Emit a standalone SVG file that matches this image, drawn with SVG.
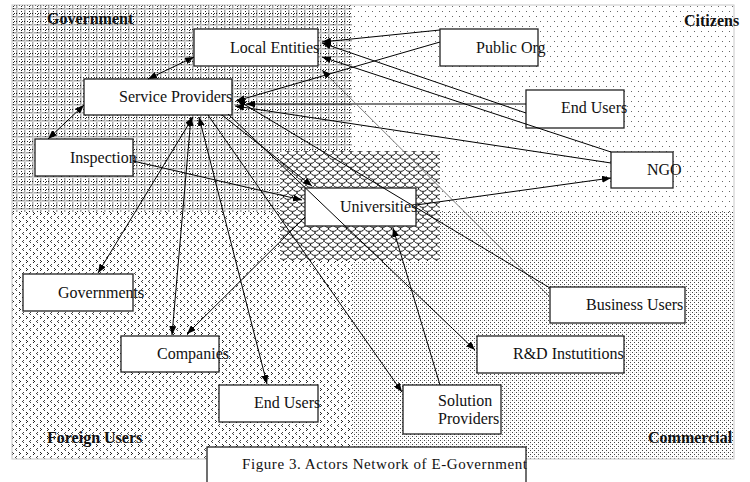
<svg xmlns="http://www.w3.org/2000/svg" width="750" height="482" viewBox="0 0 750 482">
<style>
.box{fill:#fff;stroke:#222;stroke-width:1.3}
.t{font-family:"Liberation Serif","Times New Roman",serif;font-size:16px;fill:#111}
.lb{font-family:"Liberation Serif","Times New Roman",serif;font-size:16px;font-weight:bold;fill:#111}
.cap{font-family:"Liberation Serif","Times New Roman",serif;font-size:15px;fill:#111}
.c{stroke:#000;stroke-width:1;fill:none}
.g{stroke:#7a7a7a;stroke-width:1;fill:none}
</style>
<defs>
<marker id="ah" viewBox="0 0 9 7" refX="9" refY="3.5" markerWidth="9" markerHeight="7" markerUnits="userSpaceOnUse" orient="auto-start-reverse"><path d="M0,0 L9,3.5 L0,7 z" fill="#000"/></marker>
<pattern id="pGov" width="8" height="8" patternUnits="userSpaceOnUse">
<rect width="8" height="8" fill="#fff"/>
<path d="M0.5,0V8M0,0.5H8" stroke="#a8a8a8" stroke-width="1"/>
<path d="M1.5,0V8M0,1.5H8" stroke="#d4d4d4" stroke-width="1"/>
<path d="M5.5,0V8M0,5.5H8" stroke="#222" stroke-width="1" stroke-dasharray="1 2"/>
</pattern>
<pattern id="pCit" width="7" height="10" patternUnits="userSpaceOnUse">
<rect width="7" height="10" fill="#fff"/>
<rect x="1" y="1" width="1" height="1" fill="#666"/>
<rect x="4" y="6" width="1" height="1" fill="#666"/>
</pattern>
<pattern id="pFor" width="7" height="8" patternUnits="userSpaceOnUse">
<rect width="7" height="8" fill="#fff"/>
<path d="M2,0h1v1h-1zM1,1h1v1h-1zM2,2h1v1h-1z" fill="#444"/>
<path d="M5,4h1v1h-1zM6,5h1v1h-1zM5,6h1v1h-1z" fill="#222"/>
</pattern>
<pattern id="pCom" width="4" height="4" patternUnits="userSpaceOnUse">
<rect width="4" height="4" fill="#fff"/>
<rect x="0" y="0" width="1" height="1" fill="#444"/>
<rect x="2" y="2" width="1" height="1" fill="#444"/>
<rect x="2" y="0" width="1" height="1" fill="#e0e0e0"/>
</pattern>
<pattern id="pSc" width="9" height="8" patternUnits="userSpaceOnUse">
<rect width="9" height="8" fill="#fff"/>
<path d="M0,0 C0,4.5 9,4.5 9,0 M-4.5,4 C-4.5,8.5 4.5,8.5 4.5,4 M4.5,4 C4.5,8.5 13.5,8.5 13.5,4" stroke="#000" stroke-width="0.9" fill="none"/>
</pattern>
</defs>
<rect width="750" height="482" fill="#fff"/>
<g id="background">
<rect x="12" y="5" width="340" height="207" fill="url(#pGov)"/>
<rect x="352" y="5" width="382" height="207" fill="url(#pCit)"/>
<rect x="12" y="212" width="340" height="247" fill="url(#pFor)"/>
<rect x="352" y="212" width="382" height="247" fill="url(#pCom)"/>
<rect x="12" y="5" width="722" height="454" fill="none" stroke="#c8c8c8" stroke-width="1"/>
<rect x="280" y="151" width="160" height="110" fill="url(#pSc)"/>
<text class="lb" x="47" y="24">Government</text>
<text class="lb" x="684" y="26">Citizens</text>
<text class="lb" x="47" y="443">Foreign Users</text>
<text class="lb" x="648" y="443">Commercial</text>
</g>
<g id="local-entities"><rect class="box" x="194" y="29" width="124" height="37"/><text class="t" x="230" y="53">Local Entities</text></g>
<g id="service-providers"><rect class="box" x="84" y="79" width="148" height="36"/><text class="t" x="119" y="102">Service Providers</text></g>
<g id="inspection"><rect class="box" x="35" y="139" width="98" height="37"/><text class="t" x="70" y="163">Inspection</text></g>
<g id="public-org"><rect class="box" x="440" y="29" width="98" height="37"/><text class="t" x="476" y="53">Public Org</text></g>
<g id="end-users-citizens"><rect class="box" x="526" y="90" width="98" height="38"/><text class="t" x="561" y="113">End Users</text></g>
<g id="ngo"><rect class="box" x="611" y="152" width="62" height="36"/><text class="t" x="647" y="175">NGO</text></g>
<g id="universities"><rect class="box" x="305" y="188" width="111" height="38"/><text class="t" x="340" y="212">Universities</text></g>
<g id="governments"><rect class="box" x="23" y="274" width="110" height="37"/><text class="t" x="58" y="298">Governments</text></g>
<g id="business-users"><rect class="box" x="550" y="287" width="135" height="36"/><text class="t" x="586" y="310">Business Users</text></g>
<g id="companies"><rect class="box" x="121" y="336" width="98" height="36"/><text class="t" x="157" y="359">Companies</text></g>
<g id="rd-institutions"><rect class="box" x="477" y="336" width="147" height="37"/><text class="t" x="513" y="359">R&amp;D Instutitions</text></g>
<g id="end-users-foreign"><rect class="box" x="219" y="385" width="99" height="37"/><text class="t" x="254" y="408">End Users</text></g>
<g id="solution-providers"><rect class="box" x="403" y="385" width="98" height="49"/><text class="t" x="438" y="406">Solution</text><text class="t" x="438" y="424">Providers</text></g>
<g id="connectors">
<line class="c" x1="148" y1="79" x2="194" y2="57" marker-start="url(#ah)" marker-end="url(#ah)"/>
<line class="c" x1="84" y1="105" x2="48" y2="139" marker-start="url(#ah)" marker-end="url(#ah)"/>
<line class="c" x1="440" y1="30" x2="322" y2="42" marker-end="url(#ah)"/>
<line class="c" x1="440" y1="42" x2="236" y2="101" marker-end="url(#ah)"/>
<line class="c" x1="526" y1="104" x2="246" y2="104" marker-end="url(#ah)"/>
<line class="c" x1="526" y1="113" x2="322" y2="43" marker-end="url(#ah)"/>
<line class="c" x1="611" y1="152" x2="322" y2="57" marker-end="url(#ah)"/>
<line class="c" x1="611" y1="163" x2="235" y2="106" marker-end="url(#ah)"/>
<line class="g" x1="550" y1="297" x2="322" y2="70" marker-end="url(#ah)"/>
<line class="c" x1="550" y1="288" x2="237" y2="100" marker-end="url(#ah)"/>
<line class="c" x1="98" y1="273" x2="193" y2="117" marker-start="url(#ah)" marker-end="url(#ah)"/>
<line class="c" x1="172" y1="335" x2="191" y2="117" marker-start="url(#ah)" marker-end="url(#ah)"/>
<line class="c" x1="267" y1="384" x2="199" y2="117" marker-start="url(#ah)" marker-end="url(#ah)"/>
<line class="c" x1="208" y1="115" x2="402" y2="392" marker-end="url(#ah)"/>
<line class="c" x1="228" y1="114" x2="475" y2="350" marker-end="url(#ah)"/>
<line class="c" x1="222" y1="115" x2="312" y2="186" marker-end="url(#ah)"/>
<line class="c" x1="133" y1="161" x2="302" y2="200" marker-end="url(#ah)"/>
<line class="c" x1="416" y1="205" x2="611" y2="178" marker-end="url(#ah)"/>
<line class="c" x1="440" y1="385" x2="393" y2="228" marker-end="url(#ah)"/>
<line class="c" x1="305" y1="217" x2="187" y2="334" marker-end="url(#ah)"/>
</g>
<g id="caption"><rect class="box" x="207" y="447" width="319" height="50"/><text class="cap" x="242" y="469" textLength="285" lengthAdjust="spacing">Figure 3. Actors Network of E-Government</text></g>
</svg>
